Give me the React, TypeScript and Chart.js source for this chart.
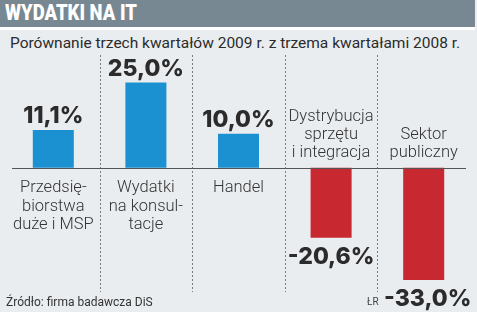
import React, { useEffect, useRef } from "react";
import { Chart, registerables } from "chart.js";

Chart.register(...registerables);

const categories: string[][] = [
  ["Przedsię-", "biorstwa", "duże i MSP"],
  ["Wydatki", "na konsul-", "tacje"],
  ["Handel"],
  ["Dystrybucja", "sprzętu", "i integracja"],
  ["Sektor", "publiczny"],
];
const values: number[] = [11.1, 25.0, 10.0, -20.6, -33.0];
const valueLabels: string[] = ["11,1%", "25,0%", "10,0%", "-20,6%", "-33,0%"];

const BLUE = "#1b91d1";
const RED = "#c8282f";

export default function App() {
  const ref = useRef<HTMLCanvasElement>(null);

  useEffect(() => {
    const canvas = ref.current!;
    const deco = {
      id: "deco",
      beforeDatasetsDraw(chart: any) {
        const ctx = chart.ctx;
        const x = chart.scales.x;
        const area = chart.chartArea;
        ctx.save();
        ctx.strokeStyle = "#7a7a7a";
        ctx.lineWidth = 1;
        ctx.setLineDash([2, 2]);
        for (let i = 0; i < values.length - 1; i++) {
          const px = Math.round((x.getPixelForValue(i) + x.getPixelForValue(i + 1)) / 2) + 0.5;
          ctx.beginPath();
          ctx.moveTo(px, area.top - 2);
          ctx.lineTo(px, area.bottom);
          ctx.stroke();
        }
        ctx.restore();
      },
      afterDatasetsDraw(chart: any) {
        const ctx = chart.ctx;
        const x = chart.scales.x;
        const y = chart.scales.y;
        const area = chart.chartArea;
        const zy = Math.round(y.getPixelForValue(0)) + 0.5;
        ctx.save();
        ctx.strokeStyle = "#555";
        ctx.lineWidth = 1;
        ctx.beginPath();
        ctx.moveTo(area.left + 5, zy);
        ctx.lineTo(area.right - 4, zy);
        ctx.stroke();

        ctx.textAlign = "center";
        ctx.textBaseline = "alphabetic";
        values.forEach((v, i) => {
          const cx = x.getPixelForValue(i);
          const vy = y.getPixelForValue(v);
          ctx.fillStyle = "#2b2b2b";
          ctx.font = "800 23px Inter";
          if (v >= 0) {
            ctx.fillText(valueLabels[i], cx, vy - 7);
          } else {
            ctx.fillText(valueLabels[i], cx + (i === values.length - 1 ? 4 : 0), vy + 26);
          }
          ctx.fillStyle = "#333";
          ctx.font = "300 16.5px Roboto";
          const lines = categories[i];
          if (v >= 0) {
            lines.forEach((l, j) => ctx.fillText(l, cx, zy + 23.5 + j * 18.5));
          } else {
            const n = lines.length;
            lines.forEach((l, j) => ctx.fillText(l, cx, zy - 11.5 - (n - 1 - j) * 18));
          }
        });
        ctx.restore();
      },
    };

    const chart = new Chart(canvas, {
      type: "bar",
      data: {
        labels: categories.map((c) => c.join(" ")),
        datasets: [
          {
            data: values,
            backgroundColor: values.map((v) => (v >= 0 ? BLUE : RED)),
            borderWidth: 0,
            barPercentage: 0.443,
            categoryPercentage: 1,
          },
        ],
      },
      options: {
        responsive: false,
        animation: false,
        devicePixelRatio: 1,
        layout: { padding: { left: 7, right: 7, top: 57, bottom: 20 } },
        plugins: { legend: { display: false }, tooltip: { enabled: false }, title: { display: false } },
        scales: {
          x: { display: false },
          y: { display: false, min: -36.5, max: 32.5 },
        },
      },
      plugins: [deco],
    });
    return () => chart.destroy();
  }, []);

  return (
    <div
      style={{
        position: "fixed",
        left: 0,
        top: 0,
        width: 477,
        height: 312,
        background: "#eaedf0",
        overflow: "hidden",
      }}
    >
      <div
        style={{
          position: "absolute",
          left: 0,
          top: 0,
          width: 475,
          height: 27,
          background: "#788892",
          borderBottom: "3px solid #ffffff",
        }}
      />
      <div
        style={{
          position: "absolute",
          left: 5,
          top: 0,
          height: 27,
          lineHeight: "28px",
          color: "#fff",
          font: "900 22px Roboto",
          whiteSpace: "nowrap",
          transform: "scaleX(0.84)",
          transformOrigin: "0 0",
        }}
      >
        WYDATKI NA IT
      </div>
      <div
        style={{
          position: "absolute",
          left: 10,
          top: 34,
          lineHeight: "18px",
          color: "#2b2b2b",
          font: "400 15.5px Roboto",
          whiteSpace: "nowrap",
        }}
      >
        Porównanie trzech kwartałów 2009 r. z trzema kwartałami 2008 r.
      </div>
      <canvas
        ref={ref}
        width={477}
        height={312}
        style={{ position: "absolute", left: 0, top: 0, width: 477, height: 312 }}
      />
      <div
        style={{
          position: "absolute",
          left: 6,
          top: 295,
          lineHeight: "14px",
          color: "#333",
          font: "400 12px Roboto",
          whiteSpace: "nowrap",
        }}
      >
        Źródło: firma badawcza DiS
      </div>
      <div
        style={{
          position: "absolute",
          left: 367,
          top: 296,
          lineHeight: "13px",
          color: "#444",
          font: "400 10px Roboto",
          whiteSpace: "nowrap",
        }}
      >
        ŁR
      </div>
    </div>
  );
}
